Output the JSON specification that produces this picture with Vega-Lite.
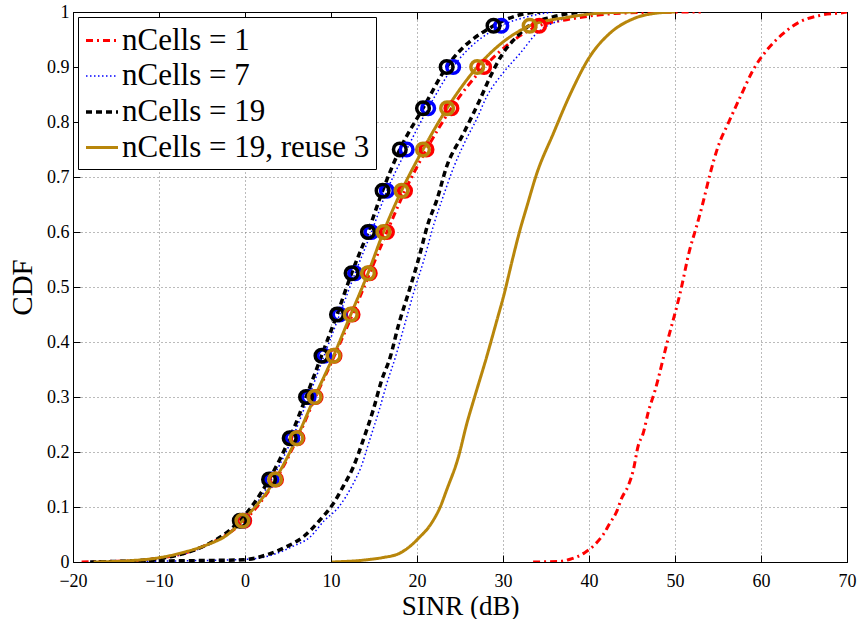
{
  "$schema": "https://vega.github.io/schema/vega-lite/v6.json",
  "width": 774,
  "height": 550,
  "autosize": {"type": "none"},
  "padding": {"left": 73, "top": 12, "right": 14, "bottom": 57},
  "background": "white",
  "config": {
    "view": {"stroke": "black", "strokeWidth": 1},
    "font": "Liberation Serif"
  },
  "data": {"values": [
    {"series":"nCells = 1","branch":"a","sinr":-19,"cdf":0},
    {"series":"nCells = 1","branch":"a","sinr":-16,"cdf":0.001},
    {"series":"nCells = 1","branch":"a","sinr":-13,"cdf":0.002},
    {"series":"nCells = 1","branch":"a","sinr":-10,"cdf":0.007},
    {"series":"nCells = 1","branch":"a","sinr":-7,"cdf":0.016},
    {"series":"nCells = 1","branch":"a","sinr":-4.5,"cdf":0.031},
    {"series":"nCells = 1","branch":"a","sinr":-2.1,"cdf":0.05},
    {"series":"nCells = 1","branch":"a","sinr":-0.1,"cdf":0.075},
    {"series":"nCells = 1","branch":"a","sinr":3.6,"cdf":0.15},
    {"series":"nCells = 1","branch":"a","sinr":6.1,"cdf":0.225},
    {"series":"nCells = 1","branch":"a","sinr":8.2,"cdf":0.3},
    {"series":"nCells = 1","branch":"a","sinr":10.4,"cdf":0.375},
    {"series":"nCells = 1","branch":"a","sinr":12.5,"cdf":0.45},
    {"series":"nCells = 1","branch":"a","sinr":14.5,"cdf":0.525},
    {"series":"nCells = 1","branch":"a","sinr":16.5,"cdf":0.6},
    {"series":"nCells = 1","branch":"a","sinr":18.6,"cdf":0.675},
    {"series":"nCells = 1","branch":"a","sinr":21.1,"cdf":0.75},
    {"series":"nCells = 1","branch":"a","sinr":24.0,"cdf":0.825},
    {"series":"nCells = 1","branch":"a","sinr":27.8,"cdf":0.9},
    {"series":"nCells = 1","branch":"a","sinr":34.2,"cdf":0.975},
    {"series":"nCells = 1","branch":"a","sinr":37.4,"cdf":0.986},
    {"series":"nCells = 1","branch":"a","sinr":41.3,"cdf":0.995},
    {"series":"nCells = 1","branch":"a","sinr":46,"cdf":0.999},
    {"series":"nCells = 1","branch":"a","sinr":53,"cdf":1},
    {"series":"nCells = 1","branch":"b","sinr":33.5,"cdf":0},
    {"series":"nCells = 1","branch":"b","sinr":36.6,"cdf":0.001},
    {"series":"nCells = 1","branch":"b","sinr":37.8,"cdf":0.005},
    {"series":"nCells = 1","branch":"b","sinr":39.5,"cdf":0.017},
    {"series":"nCells = 1","branch":"b","sinr":40.7,"cdf":0.032},
    {"series":"nCells = 1","branch":"b","sinr":41.7,"cdf":0.051},
    {"series":"nCells = 1","branch":"b","sinr":42.4,"cdf":0.07},
    {"series":"nCells = 1","branch":"b","sinr":43.2,"cdf":0.091},
    {"series":"nCells = 1","branch":"b","sinr":43.8,"cdf":0.116},
    {"series":"nCells = 1","branch":"b","sinr":44.6,"cdf":0.14},
    {"series":"nCells = 1","branch":"b","sinr":45.15,"cdf":0.167},
    {"series":"nCells = 1","branch":"b","sinr":45.7,"cdf":0.21},
    {"series":"nCells = 1","branch":"b","sinr":46.3,"cdf":0.234},
    {"series":"nCells = 1","branch":"b","sinr":46.9,"cdf":0.273},
    {"series":"nCells = 1","branch":"b","sinr":47.7,"cdf":0.313},
    {"series":"nCells = 1","branch":"b","sinr":49.1,"cdf":0.4},
    {"series":"nCells = 1","branch":"b","sinr":50.6,"cdf":0.489},
    {"series":"nCells = 1","branch":"b","sinr":51.7,"cdf":0.567},
    {"series":"nCells = 1","branch":"b","sinr":52.5,"cdf":0.61},
    {"series":"nCells = 1","branch":"b","sinr":53.2,"cdf":0.65},
    {"series":"nCells = 1","branch":"b","sinr":54.1,"cdf":0.707},
    {"series":"nCells = 1","branch":"b","sinr":55.0,"cdf":0.755},
    {"series":"nCells = 1","branch":"b","sinr":56.2,"cdf":0.798},
    {"series":"nCells = 1","branch":"b","sinr":57.6,"cdf":0.846},
    {"series":"nCells = 1","branch":"b","sinr":59.1,"cdf":0.895},
    {"series":"nCells = 1","branch":"b","sinr":60.7,"cdf":0.931},
    {"series":"nCells = 1","branch":"b","sinr":62.6,"cdf":0.961},
    {"series":"nCells = 1","branch":"b","sinr":64.5,"cdf":0.982},
    {"series":"nCells = 1","branch":"b","sinr":66.9,"cdf":0.994},
    {"series":"nCells = 1","branch":"b","sinr":69.6,"cdf":0.999},
    {"series":"nCells = 1","branch":"b","sinr":70,"cdf":1},

    {"series":"nCells = 7","branch":"a","sinr":-18,"cdf":0},
    {"series":"nCells = 7","branch":"a","sinr":-15,"cdf":0.001},
    {"series":"nCells = 7","branch":"a","sinr":-12,"cdf":0.003},
    {"series":"nCells = 7","branch":"a","sinr":-10,"cdf":0.006},
    {"series":"nCells = 7","branch":"a","sinr":-8,"cdf":0.012},
    {"series":"nCells = 7","branch":"a","sinr":-6,"cdf":0.02},
    {"series":"nCells = 7","branch":"a","sinr":-4,"cdf":0.033},
    {"series":"nCells = 7","branch":"a","sinr":-2,"cdf":0.052},
    {"series":"nCells = 7","branch":"a","sinr":-0.3,"cdf":0.075},
    {"series":"nCells = 7","branch":"a","sinr":3.1,"cdf":0.15},
    {"series":"nCells = 7","branch":"a","sinr":5.5,"cdf":0.225},
    {"series":"nCells = 7","branch":"a","sinr":7.4,"cdf":0.3},
    {"series":"nCells = 7","branch":"a","sinr":9.2,"cdf":0.375},
    {"series":"nCells = 7","branch":"a","sinr":11.0,"cdf":0.45},
    {"series":"nCells = 7","branch":"a","sinr":12.8,"cdf":0.525},
    {"series":"nCells = 7","branch":"a","sinr":14.7,"cdf":0.6},
    {"series":"nCells = 7","branch":"a","sinr":16.5,"cdf":0.675},
    {"series":"nCells = 7","branch":"a","sinr":18.8,"cdf":0.75},
    {"series":"nCells = 7","branch":"a","sinr":21.3,"cdf":0.825},
    {"series":"nCells = 7","branch":"a","sinr":24.2,"cdf":0.9},
    {"series":"nCells = 7","branch":"a","sinr":29.8,"cdf":0.975},
    {"series":"nCells = 7","branch":"a","sinr":32.75,"cdf":0.991},
    {"series":"nCells = 7","branch":"a","sinr":35.8,"cdf":1},
    {"series":"nCells = 7","branch":"b","sinr":-17,"cdf":0},
    {"series":"nCells = 7","branch":"b","sinr":-8,"cdf":0.002},
    {"series":"nCells = 7","branch":"b","sinr":0.5,"cdf":0.005},
    {"series":"nCells = 7","branch":"b","sinr":3.2,"cdf":0.013},
    {"series":"nCells = 7","branch":"b","sinr":5.5,"cdf":0.028},
    {"series":"nCells = 7","branch":"b","sinr":7.6,"cdf":0.046},
    {"series":"nCells = 7","branch":"b","sinr":9.2,"cdf":0.075},
    {"series":"nCells = 7","branch":"b","sinr":10.9,"cdf":0.1},
    {"series":"nCells = 7","branch":"b","sinr":12.5,"cdf":0.14},
    {"series":"nCells = 7","branch":"b","sinr":13.5,"cdf":0.173},
    {"series":"nCells = 7","branch":"b","sinr":14.5,"cdf":0.222},
    {"series":"nCells = 7","branch":"b","sinr":15.6,"cdf":0.276},
    {"series":"nCells = 7","branch":"b","sinr":16.5,"cdf":0.325},
    {"series":"nCells = 7","branch":"b","sinr":17.5,"cdf":0.373},
    {"series":"nCells = 7","branch":"b","sinr":18.5,"cdf":0.428},
    {"series":"nCells = 7","branch":"b","sinr":19.6,"cdf":0.489},
    {"series":"nCells = 7","branch":"b","sinr":20.8,"cdf":0.549},
    {"series":"nCells = 7","branch":"b","sinr":22.0,"cdf":0.616},
    {"series":"nCells = 7","branch":"b","sinr":22.9,"cdf":0.658},
    {"series":"nCells = 7","branch":"b","sinr":24.3,"cdf":0.719},
    {"series":"nCells = 7","branch":"b","sinr":25.9,"cdf":0.774},
    {"series":"nCells = 7","branch":"b","sinr":26.9,"cdf":0.804},
    {"series":"nCells = 7","branch":"b","sinr":28.1,"cdf":0.846},
    {"series":"nCells = 7","branch":"b","sinr":30.0,"cdf":0.889},
    {"series":"nCells = 7","branch":"b","sinr":32.0,"cdf":0.925},
    {"series":"nCells = 7","branch":"b","sinr":33.9,"cdf":0.961},
    {"series":"nCells = 7","branch":"b","sinr":36.6,"cdf":0.985},
    {"series":"nCells = 7","branch":"b","sinr":39,"cdf":0.995},
    {"series":"nCells = 7","branch":"b","sinr":42,"cdf":1},

    {"series":"nCells = 19","branch":"a","sinr":-18,"cdf":0},
    {"series":"nCells = 19","branch":"a","sinr":-15,"cdf":0.001},
    {"series":"nCells = 19","branch":"a","sinr":-12,"cdf":0.003},
    {"series":"nCells = 19","branch":"a","sinr":-10,"cdf":0.006},
    {"series":"nCells = 19","branch":"a","sinr":-8,"cdf":0.012},
    {"series":"nCells = 19","branch":"a","sinr":-6,"cdf":0.021},
    {"series":"nCells = 19","branch":"a","sinr":-4,"cdf":0.035},
    {"series":"nCells = 19","branch":"a","sinr":-2,"cdf":0.055},
    {"series":"nCells = 19","branch":"a","sinr":-0.6,"cdf":0.075},
    {"series":"nCells = 19","branch":"a","sinr":2.8,"cdf":0.15},
    {"series":"nCells = 19","branch":"a","sinr":5.2,"cdf":0.225},
    {"series":"nCells = 19","branch":"a","sinr":7.1,"cdf":0.3},
    {"series":"nCells = 19","branch":"a","sinr":8.9,"cdf":0.375},
    {"series":"nCells = 19","branch":"a","sinr":10.7,"cdf":0.45},
    {"series":"nCells = 19","branch":"a","sinr":12.4,"cdf":0.525},
    {"series":"nCells = 19","branch":"a","sinr":14.3,"cdf":0.6},
    {"series":"nCells = 19","branch":"a","sinr":16.0,"cdf":0.675},
    {"series":"nCells = 19","branch":"a","sinr":18.0,"cdf":0.75},
    {"series":"nCells = 19","branch":"a","sinr":20.7,"cdf":0.825},
    {"series":"nCells = 19","branch":"a","sinr":23.45,"cdf":0.9},
    {"series":"nCells = 19","branch":"a","sinr":28.9,"cdf":0.975},
    {"series":"nCells = 19","branch":"a","sinr":32,"cdf":0.995},
    {"series":"nCells = 19","branch":"a","sinr":34.3,"cdf":1},
    {"series":"nCells = 19","branch":"b","sinr":-17,"cdf":0},
    {"series":"nCells = 19","branch":"b","sinr":-8.7,"cdf":0.002},
    {"series":"nCells = 19","branch":"b","sinr":-3.3,"cdf":0.003},
    {"series":"nCells = 19","branch":"b","sinr":-0.2,"cdf":0.004},
    {"series":"nCells = 19","branch":"b","sinr":2.5,"cdf":0.013},
    {"series":"nCells = 19","branch":"b","sinr":4.85,"cdf":0.028},
    {"series":"nCells = 19","branch":"b","sinr":6.8,"cdf":0.046},
    {"series":"nCells = 19","branch":"b","sinr":8.7,"cdf":0.076},
    {"series":"nCells = 19","branch":"b","sinr":10.3,"cdf":0.107},
    {"series":"nCells = 19","branch":"b","sinr":11.4,"cdf":0.137},
    {"series":"nCells = 19","branch":"b","sinr":12.6,"cdf":0.173},
    {"series":"nCells = 19","branch":"b","sinr":13.75,"cdf":0.222},
    {"series":"nCells = 19","branch":"b","sinr":14.9,"cdf":0.276},
    {"series":"nCells = 19","branch":"b","sinr":15.9,"cdf":0.331},
    {"series":"nCells = 19","branch":"b","sinr":16.9,"cdf":0.373},
    {"series":"nCells = 19","branch":"b","sinr":17.8,"cdf":0.428},
    {"series":"nCells = 19","branch":"b","sinr":19.0,"cdf":0.489},
    {"series":"nCells = 19","branch":"b","sinr":20.15,"cdf":0.549},
    {"series":"nCells = 19","branch":"b","sinr":21.3,"cdf":0.616},
    {"series":"nCells = 19","branch":"b","sinr":22.3,"cdf":0.658},
    {"series":"nCells = 19","branch":"b","sinr":23.45,"cdf":0.719},
    {"series":"nCells = 19","branch":"b","sinr":25.4,"cdf":0.779},
    {"series":"nCells = 19","branch":"b","sinr":27.3,"cdf":0.84},
    {"series":"nCells = 19","branch":"b","sinr":28.5,"cdf":0.882},
    {"series":"nCells = 19","branch":"b","sinr":30.0,"cdf":0.925},
    {"series":"nCells = 19","branch":"b","sinr":31.6,"cdf":0.955},
    {"series":"nCells = 19","branch":"b","sinr":33.1,"cdf":0.976},
    {"series":"nCells = 19","branch":"b","sinr":35.8,"cdf":0.991},
    {"series":"nCells = 19","branch":"b","sinr":39,"cdf":1},

    {"series":"nCells = 19, reuse 3","branch":"a","sinr":-17.6,"cdf":0},
    {"series":"nCells = 19, reuse 3","branch":"a","sinr":-13.75,"cdf":0.002},
    {"series":"nCells = 19, reuse 3","branch":"a","sinr":-9.9,"cdf":0.008},
    {"series":"nCells = 19, reuse 3","branch":"a","sinr":-6.8,"cdf":0.019},
    {"series":"nCells = 19, reuse 3","branch":"a","sinr":-4.45,"cdf":0.031},
    {"series":"nCells = 19, reuse 3","branch":"a","sinr":-2.1,"cdf":0.049},
    {"series":"nCells = 19, reuse 3","branch":"a","sinr":-0.3,"cdf":0.075},
    {"series":"nCells = 19, reuse 3","branch":"a","sinr":3.5,"cdf":0.15},
    {"series":"nCells = 19, reuse 3","branch":"a","sinr":6.0,"cdf":0.225},
    {"series":"nCells = 19, reuse 3","branch":"a","sinr":8.1,"cdf":0.3},
    {"series":"nCells = 19, reuse 3","branch":"a","sinr":10.3,"cdf":0.375},
    {"series":"nCells = 19, reuse 3","branch":"a","sinr":12.3,"cdf":0.45},
    {"series":"nCells = 19, reuse 3","branch":"a","sinr":14.3,"cdf":0.525},
    {"series":"nCells = 19, reuse 3","branch":"a","sinr":16.1,"cdf":0.6},
    {"series":"nCells = 19, reuse 3","branch":"a","sinr":18.2,"cdf":0.675},
    {"series":"nCells = 19, reuse 3","branch":"a","sinr":20.7,"cdf":0.75},
    {"series":"nCells = 19, reuse 3","branch":"a","sinr":23.5,"cdf":0.825},
    {"series":"nCells = 19, reuse 3","branch":"a","sinr":27.0,"cdf":0.9},
    {"series":"nCells = 19, reuse 3","branch":"a","sinr":33.1,"cdf":0.975},
    {"series":"nCells = 19, reuse 3","branch":"a","sinr":37.4,"cdf":0.99},
    {"series":"nCells = 19, reuse 3","branch":"a","sinr":41.3,"cdf":0.998},
    {"series":"nCells = 19, reuse 3","branch":"a","sinr":45.5,"cdf":1},
    {"series":"nCells = 19, reuse 3","branch":"b","sinr":10.1,"cdf":0},
    {"series":"nCells = 19, reuse 3","branch":"b","sinr":14.15,"cdf":0.004},
    {"series":"nCells = 19, reuse 3","branch":"b","sinr":16,"cdf":0.008},
    {"series":"nCells = 19, reuse 3","branch":"b","sinr":18.0,"cdf":0.016},
    {"series":"nCells = 19, reuse 3","branch":"b","sinr":19.3,"cdf":0.03},
    {"series":"nCells = 19, reuse 3","branch":"b","sinr":20.35,"cdf":0.046},
    {"series":"nCells = 19, reuse 3","branch":"b","sinr":21.2,"cdf":0.06},
    {"series":"nCells = 19, reuse 3","branch":"b","sinr":21.9,"cdf":0.076},
    {"series":"nCells = 19, reuse 3","branch":"b","sinr":22.7,"cdf":0.1},
    {"series":"nCells = 19, reuse 3","branch":"b","sinr":23.45,"cdf":0.131},
    {"series":"nCells = 19, reuse 3","branch":"b","sinr":24.8,"cdf":0.19},
    {"series":"nCells = 19, reuse 3","branch":"b","sinr":25.8,"cdf":0.252},
    {"series":"nCells = 19, reuse 3","branch":"b","sinr":26.7,"cdf":0.3},
    {"series":"nCells = 19, reuse 3","branch":"b","sinr":28.1,"cdf":0.373},
    {"series":"nCells = 19, reuse 3","branch":"b","sinr":29.3,"cdf":0.44},
    {"series":"nCells = 19, reuse 3","branch":"b","sinr":30.1,"cdf":0.485},
    {"series":"nCells = 19, reuse 3","branch":"b","sinr":31.1,"cdf":0.55},
    {"series":"nCells = 19, reuse 3","branch":"b","sinr":32.0,"cdf":0.605},
    {"series":"nCells = 19, reuse 3","branch":"b","sinr":32.75,"cdf":0.645},
    {"series":"nCells = 19, reuse 3","branch":"b","sinr":33.9,"cdf":0.705},
    {"series":"nCells = 19, reuse 3","branch":"b","sinr":35.85,"cdf":0.779},
    {"series":"nCells = 19, reuse 3","branch":"b","sinr":37.8,"cdf":0.85},
    {"series":"nCells = 19, reuse 3","branch":"b","sinr":40.1,"cdf":0.919},
    {"series":"nCells = 19, reuse 3","branch":"b","sinr":42.4,"cdf":0.961},
    {"series":"nCells = 19, reuse 3","branch":"b","sinr":45.2,"cdf":0.988},
    {"series":"nCells = 19, reuse 3","branch":"b","sinr":47.9,"cdf":0.998},
    {"series":"nCells = 19, reuse 3","branch":"b","sinr":50,"cdf":1}
  ]},
  "layer": [
    {
      "mark": {"type": "line", "clip": true, "strokeCap": "butt", "interpolate": "monotone"},
      "encoding": {
        "x": {"field": "sinr", "type": "quantitative",
          "scale": {"domain": [-20, 70], "nice": false, "zero": false},
          "axis": {"orient": "bottom", "values": [-20,-10,0,10,20,30,40,50,60,70],
            "title": "SINR (dB)", "titleFont": "Liberation Serif", "titleFontSize": 27, "titleFontWeight": "normal", "titleColor": "black", "titlePadding": 3,
            "labelFont": "Liberation Serif", "labelFontSize": 18, "labelColor": "black", "labelPadding": 17, "labelFlush": false,
            "grid": true, "gridColor": "#777", "gridDash": [1, 3], "gridWidth": 1,
            "tickSize": -7, "tickColor": "black", "domainColor": "black"}},
        "y": {"field": "cdf", "type": "quantitative",
          "scale": {"domain": [0, 1], "nice": false, "zero": false},
          "axis": {"orient": "left", "values": [0,0.1,0.2,0.3,0.4,0.5,0.6,0.7,0.8,0.9,1], "format": "~g",
            "title": "CDF", "titleFont": "Liberation Serif", "titleFontSize": 29, "titleFontWeight": "normal", "titleColor": "black", "titlePadding": 9,
            "labelFont": "Liberation Serif", "labelFontSize": 18, "labelColor": "black", "labelPadding": 11, "labelFlush": false,
            "grid": true, "gridColor": "#777", "gridDash": [1, 3], "gridWidth": 1,
            "tickSize": -7, "tickColor": "black", "domainColor": "black"}},
        "color": {"field": "series", "type": "nominal",
          "scale": {"domain": ["nCells = 1", "nCells = 7", "nCells = 19", "nCells = 19, reuse 3"], "range": ["#ff0000", "#0000ff", "#000000", "#b8860b"]},
          "legend": {"orient": "none", "legendX": 5, "legendY": 5, "title": null,
            "labelFont": "Liberation Serif", "labelFontSize": 31, "labelColor": "black", "labelLimit": 400,
            "symbolType": "stroke", "symbolSize": 1024, "labelOffset": 2, "rowPadding": 3, "padding": 6,
            "strokeColor": "black", "fillColor": "white"}},
        "strokeDash": {"field": "series", "type": "nominal",
          "scale": {"domain": ["nCells = 1", "nCells = 7", "nCells = 19", "nCells = 19, reuse 3"], "range": [[7, 4, 2, 4], [1.5, 2.5], [6, 4], [1, 0]]}},
        "strokeWidth": {"field": "series", "type": "nominal",
          "scale": {"type": "ordinal", "domain": ["nCells = 1", "nCells = 7", "nCells = 19", "nCells = 19, reuse 3"], "range": [3, 1.5, 3.5, 3]}},
        "detail": {"field": "branch", "type": "nominal"}
      }
    },
    {
      "transform": [{"filter": "datum.branch == 'a' && datum.cdf > 0 && abs(datum.cdf / 0.075 - round(datum.cdf / 0.075)) < 0.000001"}],
      "mark": {"type": "point", "shape": "circle", "filled": false, "size": 160, "strokeWidth": 3.5, "opacity": 1, "clip": true},
      "encoding": {
        "x": {"field": "sinr", "type": "quantitative",
          "axis": {"orient": "top", "values": [-20,-10,0,10,20,30,40,50,60,70], "labels": false, "title": null, "grid": false,
            "tickSize": -7, "tickColor": "black", "domainColor": "black"}},
        "y": {"field": "cdf", "type": "quantitative",
          "axis": {"orient": "right", "values": [0,0.1,0.2,0.3,0.4,0.5,0.6,0.7,0.8,0.9,1], "labels": false, "title": null, "grid": false,
            "tickSize": -7, "tickColor": "black", "domainColor": "black"}},
        "color": {"field": "series", "type": "nominal", "legend": null}
      }
    }
  ],
  "resolve": {"axis": {"x": "independent", "y": "independent"}}
}
